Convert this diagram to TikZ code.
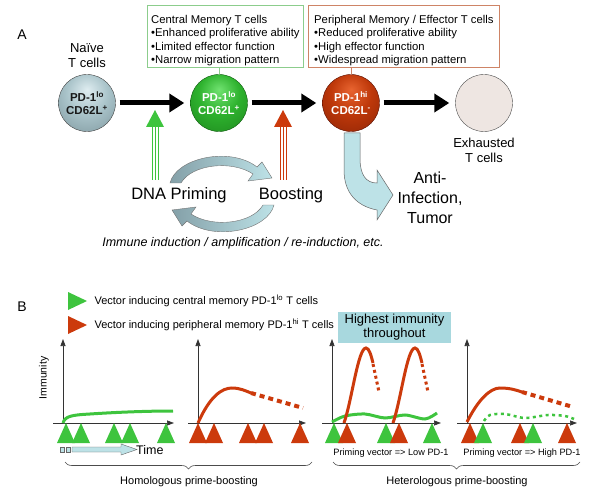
\documentclass[tikz,border=0pt]{standalone}
\usepackage{fontspec}
\setmainfont{Liberation Sans}
\usepackage{xcolor}
\usepackage{tikz}
\usetikzlibrary{positioning}
\usetikzlibrary{arrows.meta}
\usetikzlibrary{decorations.pathreplacing}

\definecolor{vgreen}{RGB}{62,196,62}
\definecolor{vred}{RGB}{204,58,12}
\definecolor{paleblue}{RGB}{189,226,231}
\definecolor{hibox}{RGB}{168,216,222}
\definecolor{boxgreen}{RGB}{140,205,140}
\definecolor{boxred}{RGB}{206,132,102}
\definecolor{spentcell}{RGB}{238,230,226}
\definecolor{cycledark}{RGB}{132,160,168}
\definecolor{naiveA}{RGB}{222,236,240}
\definecolor{naiveB}{RGB}{170,196,202}
\definecolor{naiveC}{RGB}{78,102,110}
\definecolor{centA}{RGB}{112,226,112}
\definecolor{centB}{RGB}{46,178,46}
\definecolor{centC}{RGB}{12,90,12}
\definecolor{perA}{RGB}{232,100,48}
\definecolor{perB}{RGB}{190,56,10}
\definecolor{perC}{RGB}{90,14,0}
\pgfdeclareradialshading{naiveshade}{\pgfpoint{0bp}{12bp}}{color(0bp)=(naiveA);color(18bp)=(naiveB);color(64bp)=(naiveC)}
\pgfdeclareradialshading{centshade}{\pgfpoint{0bp}{12bp}}{color(0bp)=(centA);color(18bp)=(centB);color(64bp)=(centC)}
\pgfdeclareradialshading{pershade}{\pgfpoint{0bp}{12bp}}{color(0bp)=(perA);color(18bp)=(perB);color(64bp)=(perC)}

\tikzset{
  cell/.style={circle, minimum size=57pt, inner sep=0pt, align=center,
    font=\fontsize{11.5}{13}\selectfont\bfseries},
  memobox/.style={rectangle, draw, anchor=north west, inner ysep=1pt, align=left,
    minimum height=62pt, font=\fontsize{11.3}{13.3}\selectfont},
  bigarrow/.style={line width=5pt, -{Triangle[length=15pt,width=18pt]},
    shorten <=4pt, shorten >=6pt},
  axis/.style={draw=black!80, line width=0.7pt, -{Triangle[length=7pt,width=5pt]}},
  gcurve/.style={vgreen, line width=3pt},
  rcurve/.style={vred, line width=3pt},
  rdash/.style={vred, line width=4pt, dash pattern=on 5pt off 4pt},
  rdots/.style={vred, line width=3pt, dash pattern=on 3pt off 3pt},
  gdots/.style={vgreen, line width=2.5pt, dash pattern=on 3pt off 3.5pt},
  brace/.style={draw=black!70, line width=0.6pt,
    decorate, decoration={brace, amplitude=7pt, mirror}},
  small/.style={font=\fontsize{9.2}{11}\selectfont},
}

\begin{document}
\begin{tikzpicture}[x=1pt, y=-1pt]
  \useasboundingbox (0,0) rectangle (600,500);

  % panel A: the cells
  \node[font=\fontsize{14}{16}\selectfont] (lblA) at (22,35) {A};
  \node[cell, draw=black!75, shading=naiveshade, text=black!90] (naive) at (87,103)
    {PD-1\textsuperscript{lo}\\CD62L\textsuperscript{+}};
  \node[cell, draw=centC, shading=centshade, text=white] (central) at (219,103)
    {PD-1\textsuperscript{lo}\\CD62L\textsuperscript{+}};
  \node[cell, draw=perC, shading=pershade, text=white] (periph) at (351,103)
    {PD-1\textsuperscript{hi}\\CD62L\textsuperscript{-}};
  \node[cell, draw=black!70, fill=spentcell] (spent) at (484,103) {};
  \node[above=3pt of naive, align=center, font=\fontsize{13}{15}\selectfont] (naivelbl)
    {Naïve\\T cells};
  \node[below=3pt of spent, align=center, font=\fontsize{13}{15}\selectfont] (spentlbl)
    {Exhausted\\T cells};

  \draw[bigarrow] (naive) -- (central);
  \draw[bigarrow] (central) -- (periph);
  \draw[bigarrow] (periph) -- (spent);

  % memory boxes
  \node[memobox, draw=boxgreen, inner xsep=4pt, minimum width=151pt] (cmbox) at (147,5)
    {\rule{0pt}{17pt}Central Memory T cells\\•Enhanced proliferative ability\\•Limited effector function\\•Narrow migration pattern};
  \node[memobox, draw=boxred, inner xsep=6pt, minimum width=189pt] (pmbox) at (308,5)
    {\rule{0pt}{17pt}Peripheral Memory / Effector T cells\\•Reduced proliferative ability\\•High effector function\\•Widespread migration pattern};
  \draw[boxgreen] (central.north) -- (central.north |- cmbox.south);
  \draw[boxred] (periph.north) -- (periph.north |- pmbox.south);

  % priming / boosting arrows
  \coordinate (primefoot) at (155,180);
  \coordinate (boostfoot) at (283,180);
  \foreach \d in {-3,0,3} {
    \draw[vgreen, line width=1pt] ([xshift=\d pt]primefoot) -- ++(0,-54);
    \draw[vred, line width=1pt] ([xshift=\d pt]boostfoot) -- ++(0,-54);
  }
  \fill[vgreen] (primefoot) ++(-9,-53) -- ++(9,-17) -- ++(9,17) -- cycle;
  \fill[vred] (boostfoot) ++(-9,-53) -- ++(9,-17) -- ++(9,17) -- cycle;

  \node[font=\fontsize{16.5}{18}\selectfont] (prime) at (179,195) {DNA Priming};
  \node[font=\fontsize{16.5}{18}\selectfont] (boost) at (291,195) {Boosting};

  % the cycle
  \shade[left color=cycledark, right color=paleblue, draw=black!55, line width=0.4pt]
    (170,183) .. controls (176,158) and (230,146) .. (257,167) -- (262,162)
    -- (272,178) -- (248,181) -- (253,174) .. controls (232,160) and (192,164) .. (181,183) -- cycle;
  \begin{scope}[rotate around={180:(222,194)}]
    \shade[left color=cycledark, right color=paleblue, draw=black!55, line width=0.4pt]
      (170,183) .. controls (176,158) and (230,146) .. (257,167) -- (262,162)
      -- (272,178) -- (248,181) -- (253,174) .. controls (232,160) and (192,164) .. (181,183) -- cycle;
  \end{scope}

  \node[font=\fontsize{12.5}{14}\selectfont\itshape] (induct) at (243,243)
    {Immune induction / amplification / re-induction, etc.};

  % effector arrow
  \draw[fill=paleblue, draw=black!60, line width=0.5pt]
    (344,133) -- (360,133) -- (360,158) .. controls (360,175) and (366,183) .. (377,183)
    -- (377,170) -- (393,195) -- (377,220) -- (377,210)
    .. controls (356,206) and (344,192) .. (344,170) -- cycle;
  \node[align=center, font=\fontsize{16}{20}\selectfont] (anti) at (430,198)
    {Anti-\\Infection,\\Tumor};

  % panel B: legend
  \node[font=\fontsize{14}{16}\selectfont] (lblB) at (22,307) {B};
  \fill[vgreen] (68,292) -- (87,301) -- (68,310) -- cycle;
  \fill[vred] (68,316) -- (87,325) -- (68,334) -- cycle;
  \node[anchor=west, font=\fontsize{11}{12}\selectfont] (leggreen) at (91,301)
    {Vector inducing central memory PD-1\textsuperscript{lo} T cells};
  \node[anchor=west, font=\fontsize{11}{12}\selectfont] (legred) at (91,325)
    {Vector inducing peripheral memory PD-1\textsuperscript{hi} T cells};
  \node[fill=hibox, minimum width=113pt, minimum height=31pt, inner sep=0pt, align=center,
    font=\fontsize{13}{14}\selectfont] (highest) at (394.5,327.5)
    {Highest immunity\\throughout};

  % axes
  \foreach \ya/\xa/\xb in {63/53/174, 198/188/306, 332/322/441, 467/457/577} {
    \draw[axis] (\xa,423) -- (\xb,423);
    \draw[axis] (\ya,423) -- (\ya,339);
  }
  \node[rotate=90, font=\fontsize{10.5}{12}\selectfont] (immlbl) at (44,378) {Immunity};

  % vaccine triangles
  \foreach \x/\c in {66/vgreen, 81/vgreen, 114/vgreen, 130/vgreen, 166/vgreen,
      198/vred, 214/vred, 248/vred, 264/vred, 300/vred,
      334/vgreen, 347/vred, 386/vgreen, 399/vred, 432/vgreen,
      470/vred, 483/vgreen, 520/vred, 533/vgreen, 567/vred}
    \fill[\c] (\x-9,443) -- (\x,423) -- (\x+9,443) -- cycle;

  % immunity curves
  \draw[gcurve] (63,423) .. controls (65,416) and (72,415) .. (90,414)
    .. controls (120,412) and (150,411) .. (173,411);
  \draw[rcurve] (198,423) .. controls (210,396) and (222,388) .. (232,388)
    .. controls (240,388) and (246,391) .. (251,393);
  \draw[rdash] (251,393) -- (303,408);
  \draw[gcurve] plot[smooth] coordinates {(332,422) (345,416) (365,414) (385,418) (405,415) (425,419) (437,413)};
  \foreach \s in {0,49} {
    \draw[rcurve] (344+\s,423) .. controls (352+\s,400) and (358+\s,348) .. (366+\s,348)
      .. controls (369+\s,348) and (371+\s,355) .. (373+\s,363);
    \draw[rdots] (373+\s,364) -- (379+\s,392);
  }
  \draw[rcurve] (467,422) .. controls (478,400) and (490,388) .. (500,388)
    .. controls (510,388) and (516,390) .. (522,392);
  \draw[rdash] (522,392) -- (573,407);
  \draw[gdots] plot[smooth] coordinates {(484,421) (490,415) (505,414) (525,418) (548,415) (565,416) (574,419)};

  % time arrow
  \draw[fill=paleblue, draw=black!60, line width=0.4pt] (60,447) rectangle (64,452);
  \draw[fill=paleblue, draw=black!60, line width=0.4pt] (66,447) rectangle (70,452);
  \draw[fill=paleblue, draw=black!60, line width=0.4pt]
    (72,447) -- (121,447) -- (121,444) -- (137,449.5) -- (121,455) -- (121,452) -- (72,452) -- cycle;
  \node[anchor=west, inner sep=0pt, font=\fontsize{12.5}{14}\selectfont] (time) at (136,450) {Time};

  \node[small] (lowpd) at (391,453) {Priming vector => Low PD-1};
  \node[small] (highpd) at (522,453) {Priming vector => High PD-1};

  % braces
  \draw[brace] (65,462) -- (312,462);
  \draw[brace] (333,462) -- (580,462);
  \node[font=\fontsize{11}{13}\selectfont] (homo) at (189,482) {Homologous prime-boosting};
  \node[font=\fontsize{11}{13}\selectfont] (hetero) at (457,482) {Heterologous prime-boosting};
\end{tikzpicture}
\end{document}
